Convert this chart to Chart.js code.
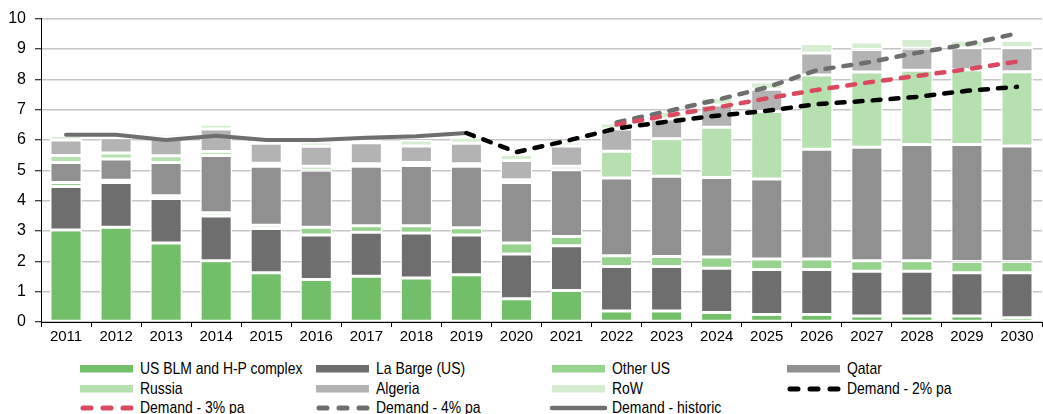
<!DOCTYPE html>
<html>
<head>
<meta charset="utf-8">
<script src="https://cdn.jsdelivr.net/npm/chart.js@4.4.1/dist/chart.umd.min.js"></script>
<style>
  body { margin: 0; background: #fff; }
  #wrap { position: relative; width: 1043px; height: 414px; }
  #box { position: absolute; left: 0; top: 0; width: 1043px; height: 345px; }
  #legend { position: absolute; left: 0; top: 359px; width: 1043px; }
  .item { position: absolute; height: 20px; display: flex; align-items: center;
          font: 17px "Liberation Sans", Arial, sans-serif; color: #000; white-space: nowrap; }
  .item svg { margin-right: 6px; flex: none; }
  .item span { display: inline-block; transform: scaleX(0.82); transform-origin: left center; }
</style>
</head>
<body>
<div id="wrap">
  <div id="box"><canvas id="chart"></canvas></div>
  <div id="legend"></div>
</div>
<script>
/* Dados */
const years = ["2011","2012","2013","2014","2015","2016","2017","2018","2019","2020",
               "2021","2022","2023","2024","2025","2026","2027","2028","2029","2030"];
const usBlm   = [3.03,3.12,2.60,2.02,1.62,1.40,1.51,1.45,1.56,0.77,1.04,0.36,0.36,0.31,0.25,0.25,0.20,0.20,0.20,0.14];
const laBarge = [1.44,1.48,1.47,1.47,1.46,1.47,1.45,1.48,1.31,1.47,1.47,1.47,1.47,1.46,1.48,1.48,1.47,1.47,1.42,1.48];
const otherUs = [0.13,0.07,0.09,0.11,0.11,0.25,0.21,0.24,0.24,0.36,0.31,0.35,0.33,0.37,0.35,0.35,0.35,0.35,0.37,0.37];
const qatar   = [0.66,0.70,1.10,1.89,1.94,1.88,1.96,1.99,2.02,2.00,2.20,2.57,2.64,2.62,2.63,3.61,3.74,3.83,3.86,3.81];
const russia  = [0.23,0.20,0.22,0.13,0.10,0.13,0.09,0.10,0.09,0.09,0.11,0.88,1.24,1.66,2.23,2.45,2.48,2.45,2.46,2.45];
const algeria = [0.51,0.50,0.61,0.74,0.66,0.66,0.69,0.54,0.67,0.63,0.67,0.73,0.65,0.73,0.73,0.73,0.74,0.72,0.73,0.79];
const rowOther= [0.15,0.05,0.11,0.16,0.06,0.14,0.09,0.20,0.20,0.20,0.13,0.20,0.25,0.25,0.24,0.31,0.25,0.32,0.25,0.25];
const demHist = [6.17,6.17,6.00,6.14,6.00,6.00,6.07,6.12,6.23,null,null,null,null,null,null,null,null,null,null,null];
const dem2    = [null,null,null,null,null,null,null,null,6.23,5.60,5.97,6.38,6.60,6.80,6.96,7.18,7.29,7.42,7.62,7.75];
const dem3    = [null,null,null,null,null,null,null,null,null,null,null,6.51,6.80,7.07,7.37,7.65,7.89,8.11,8.33,8.58];
const dem4    = [null,null,null,null,null,null,null,null,null,null,null,6.58,6.94,7.32,7.73,8.30,8.55,8.87,9.15,9.51];
const yTicks  = [0,1,2,3,4,5,6,7,8,9,10];

const FONT = '"Liberation Sans", Arial, sans-serif';

/* Séries de barras empilhadas */
function bar(label, data, color) {
    return { type: "bar", label: label, data: data, backgroundColor: color,
             borderColor: "#fff", borderWidth: 1.5, borderSkipped: false,
             barPercentage: 0.64, categoryPercentage: 1, stack: "s", order: 2 };
}

/* Séries de linhas (cada uma com sua própria pilha) */
function line(label, data, color, dashed) {
    return { type: "line", label: label, data: data, borderColor: color,
             borderWidth: dashed ? 4.5 : 4, borderDash: dashed ? [8, 10] : [],
             borderCapStyle: "round", borderJoinStyle: "round",
             pointRadius: 0, tension: 0, spanGaps: false, stack: label, order: 1,
             dashed: dashed };
}

const datasets = [
    bar("US BLM and H-P complex", usBlm, "#72be69"),
    bar("La Barge (US)", laBarge, "#6e6e6e"),
    bar("Other US", otherUs, "#97d28e"),
    bar("Qatar", qatar, "#909090"),
    bar("Russia", russia, "#b7e0b1"),
    bar("Algeria", algeria, "#b3b3b3"),
    bar("RoW", rowOther, "#d6edd2"),
    line("Demand - 2% pa", dem2, "#000000", true),
    line("Demand - 3% pa", dem3, "#d94a60", true),
    line("Demand - 4% pa", dem4, "#6e6e6e", true),
    line("Demand - historic", demHist, "#6e6e6e", false),
];

const chart = new Chart(document.getElementById("chart"), {
    data: { labels: years, datasets: datasets },
    options: {
        responsive: true,
        maintainAspectRatio: false,
        animation: false,
        layout: { padding: { top: 17, right: 1, left: 0, bottom: 0 } },
        plugins: { legend: { display: false }, tooltip: { enabled: false } },
        scales: {
            x: {
                stacked: true,
                grid: { offset: true, drawOnChartArea: false, drawTicks: true, tickLength: 5, tickColor: "#000", lineWidth: 1 },
                border: { color: "#000", width: 1 },
                ticks: { color: "#000", font: { family: FONT, size: 15 }, padding: 1, maxRotation: 0, autoSkip: false },
                afterFit: (s) => { s.height = 23; },
            },
            y: {
                stacked: true,
                min: 0, max: 10,
                afterBuildTicks: (s) => { s.ticks = yTicks.map((v) => ({ value: v })); },
                grid: { color: "#c6c6c6", lineWidth: 1.5, tickColor: "#000", tickLength: 6, tickWidth: 1 },
                border: { color: "#000", width: 1 },
                ticks: { color: "#000", font: { family: FONT, size: 16 }, padding: 9 },
                afterFit: (s) => { s.width = 41; },
            },
        },
    },
});

/* Legenda em HTML, quatro colunas */
const cols = [80, 316, 552, 787];
const legend = document.getElementById("legend");
datasets.forEach((ds, i) => {
    const el = document.createElement("div");
    el.className = "item";
    el.style.left = cols[i % 4] + "px";
    el.style.top = (Math.floor(i / 4) * 19.5) + "px";
    let sw;
    if (ds.type === "bar") {
        sw = '<svg width="54" height="8"><rect x="0" y="0" width="53" height="7.5" fill="' + ds.backgroundColor + '"/></svg>';
    } else if (ds.dashed) {
        sw = '<svg width="54" height="8"><line x1="3" y1="4" x2="51" y2="4" stroke="' + ds.borderColor +
             '" stroke-width="5" stroke-linecap="round" stroke-dasharray="8 12"/></svg>';
    } else {
        sw = '<svg width="60" height="8" style="margin-left:-3px;margin-right:3px"><line x1="3" y1="4" x2="56" y2="4" stroke="' + ds.borderColor +
             '" stroke-width="4.5" stroke-linecap="round"/></svg>';
    }
    el.innerHTML = sw + "<span>" + ds.label + "</span>";
    legend.appendChild(el);
});
</script>
</body>
</html>
